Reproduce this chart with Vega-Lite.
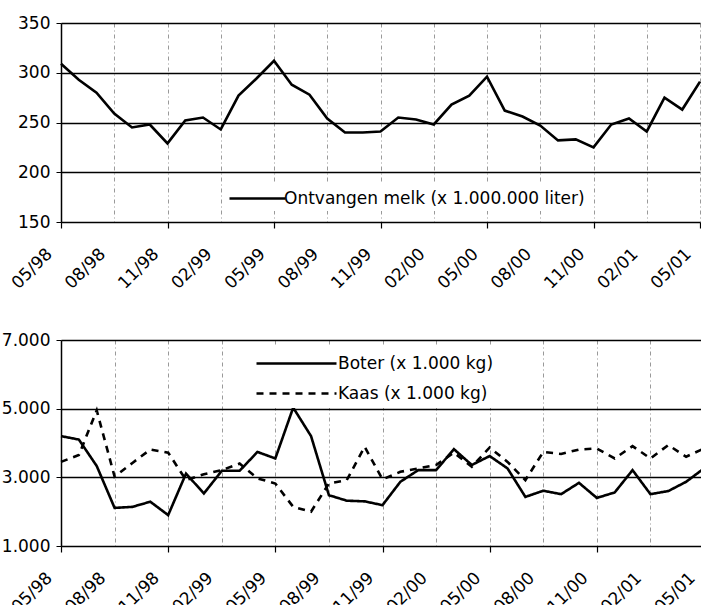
{
  "$schema": "https://vega.github.io/schema/vega-lite/v6.json",
  "background": "white",
  "padding": {"top": 14, "left": 1, "right": 0, "bottom": 0},
  "spacing": 39,
  "datasets": {
    "melk": [
      {"maand": "05/98", "waarde": 309}, {"maand": "06/98", "waarde": 293}, {"maand": "07/98", "waarde": 280},
      {"maand": "08/98", "waarde": 259}, {"maand": "09/98", "waarde": 245}, {"maand": "10/98", "waarde": 248},
      {"maand": "11/98", "waarde": 229}, {"maand": "12/98", "waarde": 252}, {"maand": "01/99", "waarde": 255},
      {"maand": "02/99", "waarde": 243}, {"maand": "03/99", "waarde": 277}, {"maand": "04/99", "waarde": 294},
      {"maand": "05/99", "waarde": 312}, {"maand": "06/99", "waarde": 288}, {"maand": "07/99", "waarde": 278},
      {"maand": "08/99", "waarde": 254}, {"maand": "09/99", "waarde": 240}, {"maand": "10/99", "waarde": 240},
      {"maand": "11/99", "waarde": 241}, {"maand": "12/99", "waarde": 255}, {"maand": "01/00", "waarde": 253},
      {"maand": "02/00", "waarde": 248}, {"maand": "03/00", "waarde": 268}, {"maand": "04/00", "waarde": 277},
      {"maand": "05/00", "waarde": 296}, {"maand": "06/00", "waarde": 262}, {"maand": "07/00", "waarde": 256},
      {"maand": "08/00", "waarde": 247}, {"maand": "09/00", "waarde": 232}, {"maand": "10/00", "waarde": 233},
      {"maand": "11/00", "waarde": 225}, {"maand": "12/00", "waarde": 248}, {"maand": "01/01", "waarde": 254},
      {"maand": "02/01", "waarde": 241}, {"maand": "03/01", "waarde": 275}, {"maand": "04/01", "waarde": 263},
      {"maand": "05/01", "waarde": 291}
    ],
    "zuivel": [
      {"maand": "05/98", "product": "Boter", "waarde": 4200}, {"maand": "06/98", "product": "Boter", "waarde": 4100},
      {"maand": "07/98", "product": "Boter", "waarde": 3330}, {"maand": "08/98", "product": "Boter", "waarde": 2110},
      {"maand": "09/98", "product": "Boter", "waarde": 2140}, {"maand": "10/98", "product": "Boter", "waarde": 2290},
      {"maand": "11/98", "product": "Boter", "waarde": 1900}, {"maand": "12/98", "product": "Boter", "waarde": 3110},
      {"maand": "01/99", "product": "Boter", "waarde": 2530}, {"maand": "02/99", "product": "Boter", "waarde": 3190},
      {"maand": "03/99", "product": "Boter", "waarde": 3190}, {"maand": "04/99", "product": "Boter", "waarde": 3740},
      {"maand": "05/99", "product": "Boter", "waarde": 3550}, {"maand": "06/99", "product": "Boter", "waarde": 5030},
      {"maand": "07/99", "product": "Boter", "waarde": 4200}, {"maand": "08/99", "product": "Boter", "waarde": 2480},
      {"maand": "09/99", "product": "Boter", "waarde": 2320}, {"maand": "10/99", "product": "Boter", "waarde": 2300},
      {"maand": "11/99", "product": "Boter", "waarde": 2190}, {"maand": "12/99", "product": "Boter", "waarde": 2870},
      {"maand": "01/00", "product": "Boter", "waarde": 3210}, {"maand": "02/00", "product": "Boter", "waarde": 3210},
      {"maand": "03/00", "product": "Boter", "waarde": 3820}, {"maand": "04/00", "product": "Boter", "waarde": 3360},
      {"maand": "05/00", "product": "Boter", "waarde": 3620}, {"maand": "06/00", "product": "Boter", "waarde": 3260},
      {"maand": "07/00", "product": "Boter", "waarde": 2430}, {"maand": "08/00", "product": "Boter", "waarde": 2610},
      {"maand": "09/00", "product": "Boter", "waarde": 2510}, {"maand": "10/00", "product": "Boter", "waarde": 2840},
      {"maand": "11/00", "product": "Boter", "waarde": 2400}, {"maand": "12/00", "product": "Boter", "waarde": 2560},
      {"maand": "01/01", "product": "Boter", "waarde": 3210}, {"maand": "02/01", "product": "Boter", "waarde": 2510},
      {"maand": "03/01", "product": "Boter", "waarde": 2600}, {"maand": "04/01", "product": "Boter", "waarde": 2870},
      {"maand": "05/01", "product": "Boter", "waarde": 3260},
      {"maand": "05/98", "product": "Kaas", "waarde": 3450}, {"maand": "06/98", "product": "Kaas", "waarde": 3650},
      {"maand": "07/98", "product": "Kaas", "waarde": 4950}, {"maand": "08/98", "product": "Kaas", "waarde": 3020},
      {"maand": "09/98", "product": "Kaas", "waarde": 3420}, {"maand": "10/98", "product": "Kaas", "waarde": 3810},
      {"maand": "11/98", "product": "Kaas", "waarde": 3720}, {"maand": "12/98", "product": "Kaas", "waarde": 2920},
      {"maand": "01/99", "product": "Kaas", "waarde": 3090}, {"maand": "02/99", "product": "Kaas", "waarde": 3210},
      {"maand": "03/99", "product": "Kaas", "waarde": 3400}, {"maand": "04/99", "product": "Kaas", "waarde": 2970},
      {"maand": "05/99", "product": "Kaas", "waarde": 2820}, {"maand": "06/99", "product": "Kaas", "waarde": 2140},
      {"maand": "07/99", "product": "Kaas", "waarde": 2000}, {"maand": "08/99", "product": "Kaas", "waarde": 2820},
      {"maand": "09/99", "product": "Kaas", "waarde": 2920}, {"maand": "10/99", "product": "Kaas", "waarde": 3890},
      {"maand": "11/99", "product": "Kaas", "waarde": 2940}, {"maand": "12/99", "product": "Kaas", "waarde": 3160},
      {"maand": "01/00", "product": "Kaas", "waarde": 3260}, {"maand": "02/00", "product": "Kaas", "waarde": 3360},
      {"maand": "03/00", "product": "Kaas", "waarde": 3720}, {"maand": "04/00", "product": "Kaas", "waarde": 3310},
      {"maand": "05/00", "product": "Kaas", "waarde": 3870}, {"maand": "06/00", "product": "Kaas", "waarde": 3450},
      {"maand": "07/00", "product": "Kaas", "waarde": 2920}, {"maand": "08/00", "product": "Kaas", "waarde": 3740},
      {"maand": "09/00", "product": "Kaas", "waarde": 3680}, {"maand": "10/00", "product": "Kaas", "waarde": 3810},
      {"maand": "11/00", "product": "Kaas", "waarde": 3840}, {"maand": "12/00", "product": "Kaas", "waarde": 3550},
      {"maand": "01/01", "product": "Kaas", "waarde": 3910}, {"maand": "02/01", "product": "Kaas", "waarde": 3550},
      {"maand": "03/01", "product": "Kaas", "waarde": 3940}, {"maand": "04/01", "product": "Kaas", "waarde": 3600},
      {"maand": "05/01", "product": "Kaas", "waarde": 3840}
    ]
  },
  "vconcat": [
    {
      "width": 639,
      "height": 199,
      "data": {"name": "melk"},
      "mark": {"type": "line", "strokeWidth": 2.6, "strokeJoin": "miter"},
      "encoding": {
        "x": {
          "field": "maand", "type": "ordinal", "sort": null,
          "scale": {"type": "point", "padding": 0},
          "axis": {
            "title": null,
            "values": ["05/98","08/98","11/98","02/99","05/99","08/99","11/99","02/00","05/00","08/00","11/00","02/01","05/01"],
            "labelAngle": -45, "labelAlign": "right", "labelBaseline": "middle", "labelPadding": 23, "labelOffset": -12,
            "domain": false, "grid": true, "gridColor": "#999999", "gridDash": [4, 3, 1, 3], "gridWidth": 1,
            "tickColor": "black", "tickSize": 6, "tickWidth": 1.2,
            "tickOpacity": {"condition": {"test": "substring(datum.value, 0, 2) == '05' || substring(datum.value, 0, 2) == '11'", "value": 1}, "value": 0}
          }
        },
        "y": {
          "field": "waarde", "type": "quantitative",
          "scale": {"domain": [150, 350], "nice": false, "zero": false},
          "axis": {"title": null, "values": [150, 200, 250, 300, 350]}
        },
        "color": {
          "datum": "Ontvangen melk (x 1.000.000 liter)", "type": "nominal",
          "scale": {"range": ["black"]},
          "legend": {
            "title": null, "orient": "none", "legendX": 163, "legendY": 160,
            "symbolType": "M-1,0H4.6", "symbolSize": 400, "symbolStrokeWidth": 2.6,
            "labelOffset": 33, "labelLimit": 0, "padding": 4, "fillColor": "white"
          }
        }
      }
    },
    {
      "width": 643,
      "height": 206,
      "data": {"name": "zuivel"},
      "mark": {"type": "line", "strokeWidth": 2.6, "color": "black", "strokeJoin": "miter"},
      "encoding": {
        "x": {
          "field": "maand", "type": "ordinal", "sort": null,
          "scale": {"type": "point", "padding": 0},
          "axis": {
            "title": null,
            "values": ["05/98","08/98","11/98","02/99","05/99","08/99","11/99","02/00","05/00","08/00","11/00","02/01","05/01"],
            "labelAngle": -45, "labelAlign": "right", "labelBaseline": "middle", "labelPadding": 23, "labelOffset": -12,
            "domain": false, "grid": true, "gridColor": "#999999", "gridDash": [4, 3, 1, 3], "gridWidth": 1,
            "tickColor": "black", "tickSize": 6, "tickWidth": 1.2,
            "tickOpacity": {"condition": {"test": "substring(datum.value, 0, 2) == '05' || substring(datum.value, 0, 2) == '11'", "value": 1}, "value": 0}
          }
        },
        "y": {
          "field": "waarde", "type": "quantitative",
          "scale": {"domain": [1000, 7000], "nice": false, "zero": false},
          "axis": {"title": null, "values": [1000, 3000, 5000, 7000], "labelExpr": "replace(format(datum.value, ','), ',', '.')"}
        },
        "strokeDash": {
          "field": "product", "type": "nominal",
          "scale": {"domain": ["Boter", "Kaas"], "range": [[1, 0], [7, 6]]},
          "legend": {
            "title": null, "orient": "none", "legendX": 188, "legendY": 6,
            "symbolType": "M-1,0H7", "symbolSize": 400, "symbolStrokeWidth": 2.6, "symbolStrokeColor": "black",
            "labelOffset": 60, "labelLimit": 0, "rowPadding": 10, "padding": 6, "fillColor": "white",
            "labelExpr": "datum.label + ' (x 1.000 kg)'"
          }
        }
      }
    }
  ],
  "resolve": {
    "scale": {"x": "independent", "y": "independent", "color": "independent", "strokeDash": "independent"},
    "legend": {"color": "independent", "strokeDash": "independent"}
  },
  "config": {
    "view": {"stroke": null},
    "font": "DejaVu Sans",
    "axis": {
      "labelFont": "DejaVu Sans", "labelFontSize": 17, "labelColor": "black"
    },
    "axisY": {
      "domain": true, "domainColor": "black", "domainWidth": 1.5,
      "gridColor": "black", "gridWidth": 1.4,
      "ticks": true, "tickColor": "black", "tickSize": 5, "labelPadding": 6
    },
    "legend": {
      "labelFont": "DejaVu Sans", "labelFontSize": 17, "labelColor": "black"
    }
  }
}
